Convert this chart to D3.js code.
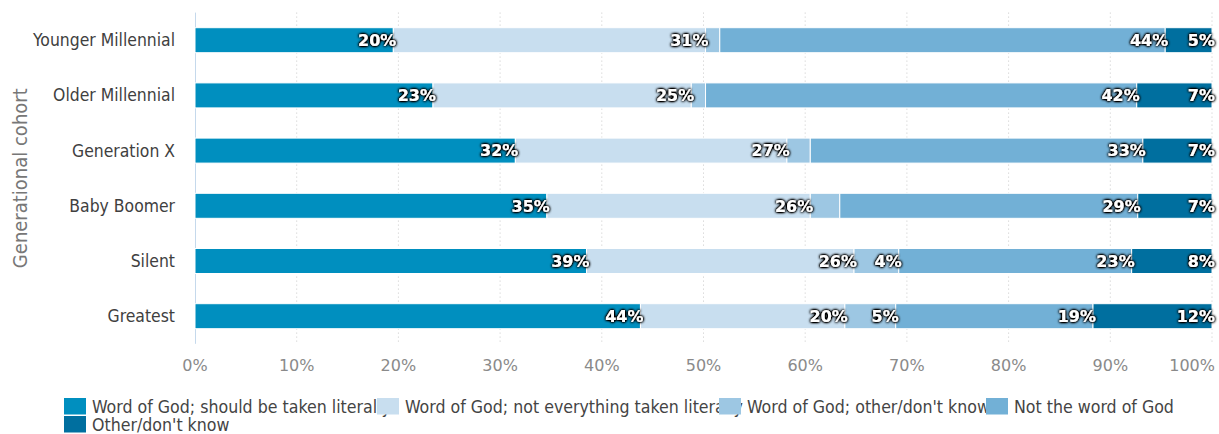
<!DOCTYPE html>
<html>
<head>
<meta charset="utf-8">
<script src="https://cdn.jsdelivr.net/npm/d3@7"></script>
<style>
  body { margin: 0; background: #fff; }
  svg { display: block; }
</style>
</head>
<body>
<svg id="chart" width="1219" height="434"></svg>
<script>
// data (percent of each cohort)
const cohorts = ["Younger Millennial", "Older Millennial", "Generation X", "Baby Boomer", "Silent", "Greatest"]
const seriesNames = [
  "Word of God; should be taken literally",
  "Word of God; not everything taken literally",
  "Word of God; other/don't know",
  "Not the word of God",
  "Other/don't know"
]
const literal    = [19.5, 23.4, 31.5, 34.6, 38.5, 43.8]
const notLiteral = [30.7, 25.4, 26.7, 25.9, 26.3, 20.1]
const otherWord  = [1.4, 1.4, 2.3, 2.9, 4.4, 5.0]
const notWord    = [43.8, 42.4, 32.7, 29.3, 22.9, 19.4]
const otherDk    = [4.6, 7.4, 6.8, 7.3, 7.9, 11.7]
const tickValues = [0, 10, 20, 30, 40, 50, 60, 70, 80, 90, 100]

const colors = ["#008fbf", "#c8deef", "#9dc7e3", "#72b0d6", "#006f9f"]

// build table for d3.stack
const columns = [literal, notLiteral, otherWord, notWord, otherDk]
const table = cohorts.map((c, i) => {
  const row = {cohort: c}
  seriesNames.forEach((s, j) => row[s] = columns[j][i])
  return row
})

const svg = d3.select("#chart")
const plotLeft = 195, plotRight = 1212, plotTop = 12.6, plotBottom = 343.8

const x = d3.scaleLinear().domain([0, 100]).range([plotLeft, plotRight])
const y = d3.scaleBand().domain(cohorts).range([plotTop, plotBottom]).paddingInner(0.547).paddingOuter(0.2735)

// label halo
const defs = svg.append("defs")
const f = defs.append("filter").attr("id", "halo").attr("x", "-20%").attr("y", "-40%").attr("width", "140%").attr("height", "180%")
f.append("feGaussianBlur").attr("in", "SourceAlpha").attr("stdDeviation", 1.8).attr("result", "b")
f.append("feComponentTransfer").attr("in", "b").attr("result", "b2")
  .append("feFuncA").attr("type", "linear").attr("slope", 2.8)
const m = f.append("feMerge")
m.append("feMergeNode").attr("in", "b2")
m.append("feMergeNode").attr("in", "SourceGraphic")

// dotted gridlines
svg.append("g")
  .selectAll("line")
  .data(tickValues.filter(t => t > 0))
  .enter().append("line")
    .attr("x1", d => x(d)).attr("x2", d => x(d))
    .attr("y1", plotTop).attr("y2", plotBottom)
    .attr("stroke", "#c8c8c8")
    .attr("stroke-width", 1)
    .attr("stroke-dasharray", "1,3")

// y axis line
svg.append("line")
  .attr("x1", plotLeft + 0.5).attr("x2", plotLeft + 0.5)
  .attr("y1", plotTop).attr("y2", plotBottom)
  .attr("stroke", "#c5d9ec")

const stack = d3.stack().keys(seriesNames)
const series = stack(table)

const groups = svg.append("g")
  .selectAll("g")
  .data(series)
  .enter().append("g")
    .attr("fill", (d, i) => colors[i])

groups.selectAll("rect")
  .data(d => d)
  .enter().append("rect")
    .attr("x", d => x(d[0]))
    .attr("y", d => y(d.data.cohort))
    .attr("width", d => x(d[1]) - x(d[0]))
    .attr("height", y.bandwidth())
    .attr("stroke", "#fff")
    .attr("stroke-width", 1)

// value labels
const labels = svg.append("g")
  .attr("font-family", "'DejaVu Sans', Verdana, sans-serif")
  .attr("font-weight", "bold")
  .attr("font-size", 16)
  .attr("fill", "#fff")
  .attr("text-anchor", "end")
  .attr("filter", "url(#halo)")

series.forEach(s => {
  s.forEach(d => {
    const v = d[1] - d[0]
    if (v < 3.5) return
    labels.append("text")
      .attr("x", x(d[1]) + 3)
      .attr("y", y(d.data.cohort) + y.bandwidth() / 2)
      .attr("dy", "0.36em")
      .text(Math.round(v) + "%")
  })
})

// category labels
svg.append("g")
  .selectAll("text")
  .data(cohorts)
  .enter().append("text")
    .attr("x", 175)
    .attr("y", d => y(d) + y.bandwidth() / 2)
    .attr("dy", "0.35em")
    .attr("text-anchor", "end")
    .attr("font-family", "'DejaVu Sans Condensed', 'DejaVu Sans', sans-serif")
    .attr("font-size", 17.4)
    .attr("fill", "#404040")
    .text(d => d)

// x tick labels
svg.append("g")
  .selectAll("text")
  .data(tickValues)
  .enter().append("text")
    .attr("x", d => d === 100 ? x(d) + 3 : x(d))
    .attr("y", 371)
    .attr("text-anchor", d => d === 100 ? "end" : "middle")
    .attr("font-family", "'DejaVu Sans', Verdana, sans-serif")
    .attr("font-size", 16)
    .attr("fill", "#8a8a8a")
    .text(d => d + "%")

// y axis title
svg.append("text")
  .attr("transform", "translate(27," + ((plotTop + plotBottom) / 2) + ") rotate(-90)")
  .attr("text-anchor", "middle")
  .attr("font-family", "'DejaVu Sans Condensed', 'DejaVu Sans', sans-serif")
  .attr("font-size", 20)
  .attr("fill", "#777")
  .text("Generational cohort")

// legend (items drawn in order, so later swatches sit on top of long names)
const legendPos = [[64, 398], [377, 398], [719, 398], [986, 398], [64, 416]]
const legend = svg.append("g")
  .selectAll("g")
  .data(seriesNames)
  .enter().append("g")
    .attr("transform", (d, i) => "translate(" + legendPos[i][0] + "," + legendPos[i][1] + ")")

legend.append("rect")
  .attr("width", 22).attr("height", 16.5)
  .attr("fill", (d, i) => colors[i])

legend.append("text")
  .attr("x", 28)
  .attr("y", 15)
  .attr("font-family", "'DejaVu Sans Condensed', 'DejaVu Sans', sans-serif")
  .attr("font-size", 17.6)
  .attr("fill", "#444")
  .text(d => d)
</script>
</body>
</html>
